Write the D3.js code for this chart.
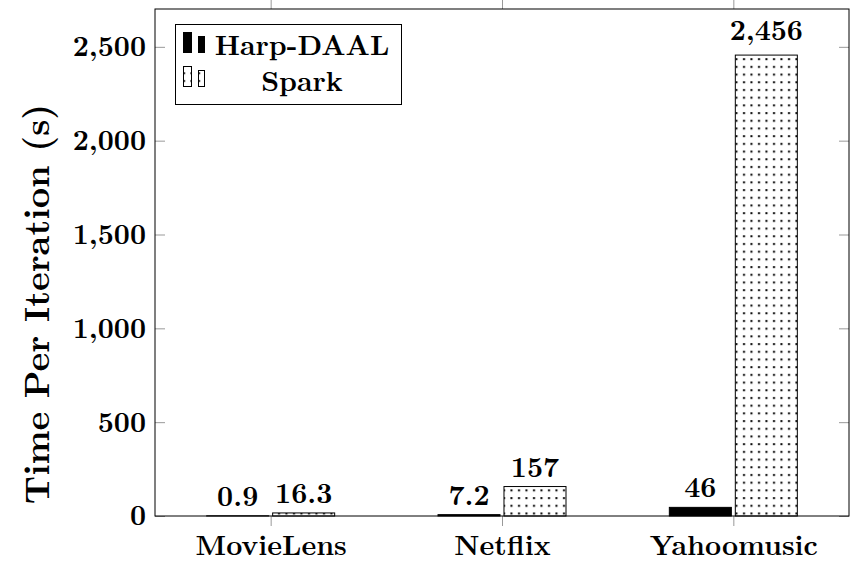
<!DOCTYPE html>
<html>
<head>
<meta charset="utf-8">
<script src="https://cdn.jsdelivr.net/npm/d3@7/dist/d3.min.js"></script>
<style>
  body { margin: 0; background: #fff; }
</style>
</head>
<body>
<div id="grafica"></div>
<script>
// datos del gráfico
categorias = ['MovieLens', 'Netflix', 'Yahoomusic']
harpDaal = [0.9, 7.2, 46]
spark = [16.3, 157, 2456]
series = ['Harp-DAAL', 'Spark']
yTicks = [0, 500, 1000, 1500, 2000, 2500]

W = 854
H = 562
margin = { top: 9, right: 5, bottom: 46, left: 155 }
width = W - margin.left - margin.right
height = H - margin.top - margin.bottom
fuente = "'LM Roman 10', 'Latin Modern Roman', 'DejaVu Serif', serif"
fs = 28

svg = d3.select('#grafica')
    .append('svg')
    .attr('width', W)
    .attr('height', H)

// patrón de puntos para Spark
defs = svg.append('defs')
pat = defs.append('pattern')
    .attr('id', 'puntos')
    .attr('patternUnits', 'userSpaceOnUse')
    .attr('width', 7.5)
    .attr('height', 7.7)
pat.append('rect').attr('width', 7.5).attr('height', 7.7).attr('fill', '#fff')
pat.append('rect').attr('x', 3).attr('y', 3).attr('width', 2).attr('height', 2).attr('fill', '#000')

function letra(sel, tam) {
    sel.style('font-family', fuente)
        .style('font-weight', 'bold')
        .style('font-size', (tam || fs) + 'px')
        .attr('fill', '#000')
}

g = svg.append('g')
    .attr('transform', 'translate(' + margin.left + ',' + margin.top + ')')

x = d3.scalePoint()
    .domain(categorias)
    .range([0, width])
    .padding(0.5)

xs = d3.scaleBand()
    .domain(series)
    .range([-64, 64])
    .paddingInner(0.06)

y = d3.scaleLinear()
    .domain([0, 2456 * 1.1])
    .range([height, 0])

fmt = d3.format(',')

function limpiar(a) {
    a.select('.domain').remove()
    a.selectAll('line').attr('stroke', '#999')
    a.selectAll('text').call(letra)
}

// ticks de y (hacia adentro, ambos lados)
g.append('g')
    .call(d3.axisLeft(y).tickValues(yTicks).tickSize(-10).tickPadding(9).tickFormat(fmt))
    .call(limpiar)

g.append('g')
    .attr('transform', 'translate(' + width + ',0)')
    .call(d3.axisRight(y).tickValues(yTicks).tickSize(-10).tickFormat(''))
    .call(limpiar)

// ticks de x (hacia afuera, arriba y abajo)
g.append('g')
    .attr('transform', 'translate(0,' + height + ')')
    .call(d3.axisBottom(x).tickSize(10).tickPadding(9))
    .call(limpiar)

g.append('g')
    .call(d3.axisTop(x).tickSize(9).tickFormat(''))
    .call(limpiar)

// barras
filas = categorias.map(function (c, i) {
    return [
        { cat: c, serie: 'Harp-DAAL', v: harpDaal[i] },
        { cat: c, serie: 'Spark', v: spark[i] }
    ]
})
datos = [].concat.apply([], filas)

g.selectAll('rect.bar')
    .data(datos)
    .enter()
    .append('rect')
    .attr('class', 'bar')
    .attr('x', function (d) { return x(d.cat) + xs(d.serie) })
    .attr('y', function (d) { return y(d.v) })
    .attr('width', xs.bandwidth())
    .attr('height', function (d) { return height - y(d.v) })
    .attr('fill', function (d) { return d.serie == 'Spark' ? 'url(#puntos)' : '#000' })
    .attr('stroke', '#000')
    .attr('stroke-width', 1)

// etiquetas sobre las barras (la coma baja un poco el texto en el original)
g.selectAll('text.val')
    .data(datos)
    .enter()
    .append('text')
    .attr('class', 'val')
    .attr('x', function (d) { return x(d.cat) + xs(d.serie) + xs.bandwidth() / 2 })
    .attr('y', function (d) { return y(d.v) - 10 - (fmt(d.v).indexOf(',') >= 0 ? 5 : 0) })
    .attr('text-anchor', 'middle')
    .call(letra)
    .text(function (d) { return fmt(d.v) })

// marco
g.append('rect')
    .attr('width', width)
    .attr('height', height)
    .attr('fill', 'none')
    .attr('stroke', '#000')
    .attr('stroke-width', 1)

// etiqueta eje y
svg.append('text')
    .attr('transform', 'translate(49,304) rotate(-90)')
    .attr('text-anchor', 'middle')
    .call(letra, 35.5)
    .text('Time Per Iteration (s)')

// leyenda
ley = svg.append('g')
ley.append('rect')
    .attr('x', 175.5).attr('y', 24.5)
    .attr('width', 226).attr('height', 80)
    .attr('fill', '#fff')
    .attr('stroke', '#000')

items = ley.selectAll('g.item')
    .data(series)
    .enter()
    .append('g')
    .attr('class', 'item')

items.append('rect')
    .attr('x', 183.5).attr('y', function (d, i) { return 32.5 + i * 34 })
    .attr('width', 8).attr('height', 20)
    .attr('fill', function (d) { return d == 'Spark' ? 'url(#puntos)' : '#000' })
    .attr('stroke', '#000')
items.append('rect')
    .attr('x', 198.5).attr('y', function (d, i) { return 36.5 + i * 34 })
    .attr('width', 6).attr('height', 16)
    .attr('fill', function (d) { return d == 'Spark' ? 'url(#puntos)' : '#000' })
    .attr('stroke', '#000')
items.append('text')
    .attr('x', 302)
    .attr('y', function (d, i) { return 55 + i * 36 })
    .attr('text-anchor', 'middle')
    .call(letra)
    .text(function (d) { return d })
</script>
</body>
</html>
